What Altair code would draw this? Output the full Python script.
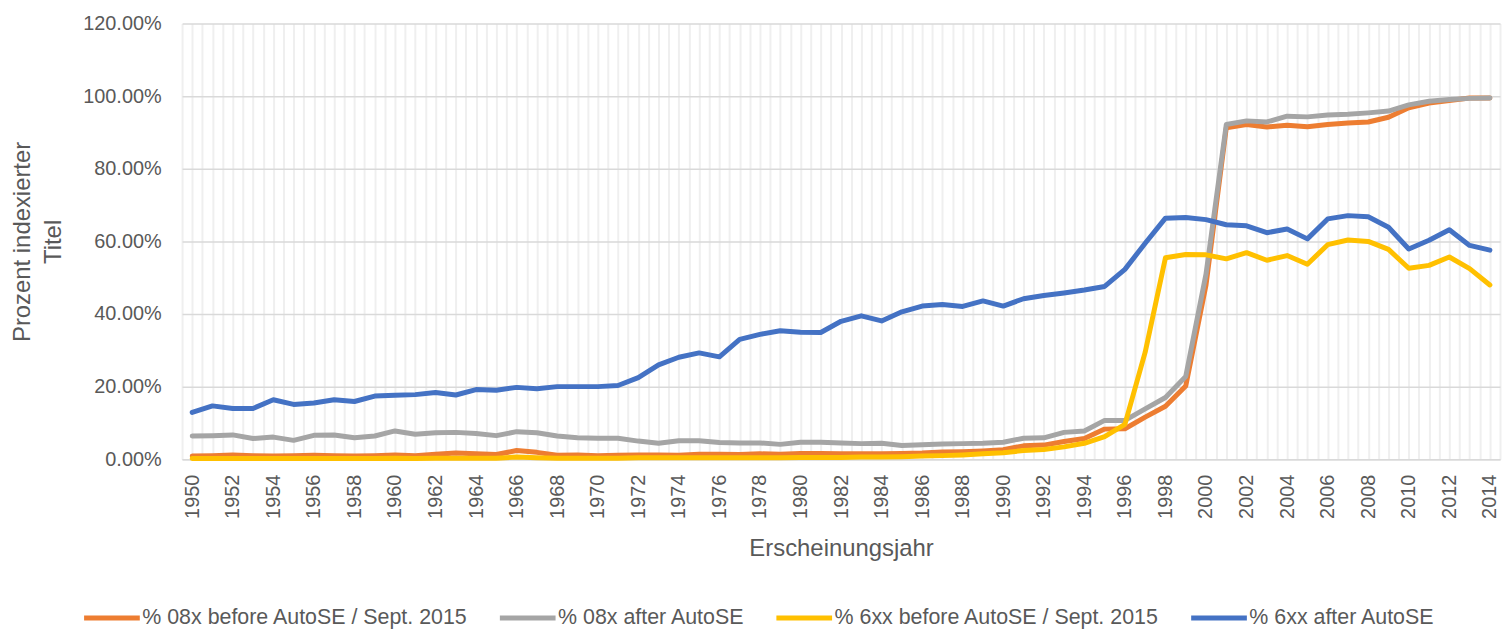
import altair as alt
import pandas as pd

years = list(range(1950, 2015))

series_names = [
    "% 08x before AutoSE / Sept. 2015",
    "% 08x after AutoSE",
    "% 6xx before AutoSE / Sept. 2015",
    "% 6xx after AutoSE",
]
series_colors = ["#ED7D31", "#A5A5A5", "#FFC000", "#4472C4"]

# values in percent, 1950..2014
orange = [0.9, 1.0, 1.2, 1.0, 0.9, 1.0, 1.1, 1.0, 0.9, 1.0,
          1.2, 1.0, 1.4, 1.7, 1.5, 1.3, 2.4, 1.9, 1.1, 1.2,
          1.0, 1.1, 1.2, 1.2, 1.1, 1.4, 1.4, 1.3, 1.5, 1.4,
          1.6, 1.6, 1.5, 1.5, 1.5, 1.6, 1.7, 2.0, 2.1, 2.3,
          2.6, 3.7, 3.9, 4.9, 5.7, 8.3, 8.4, 11.6, 14.6, 20.2,
          48.0, 91.3, 92.2, 91.5, 92.0, 91.6, 92.2, 92.6, 92.9, 94.2,
          96.8, 98.1, 98.8, 99.5, 99.5]
gray = [6.4, 6.5, 6.7, 5.7, 6.1, 5.2, 6.6, 6.7, 5.9, 6.4,
        7.8, 6.9, 7.3, 7.4, 7.1, 6.5, 7.6, 7.3, 6.4, 5.9,
        5.8, 5.8, 5.0, 4.4, 5.1, 5.1, 4.6, 4.5, 4.5, 4.1,
        4.7, 4.7, 4.5, 4.3, 4.4, 3.8, 4.0, 4.2, 4.3, 4.4,
        4.7, 5.8, 5.9, 7.4, 7.8, 10.7, 10.7, 13.9, 17.0, 22.8,
        51.0, 92.2, 93.2, 92.9, 94.5, 94.3, 94.8, 95.0, 95.4, 95.9,
        97.6, 98.6, 99.1, 99.4, 99.5]
yellow = [0.2, 0.2, 0.2, 0.2, 0.2, 0.2, 0.2, 0.2, 0.2, 0.2,
          0.3, 0.2, 0.3, 0.3, 0.3, 0.3, 0.6, 0.4, 0.3, 0.3,
          0.3, 0.3, 0.4, 0.4, 0.4, 0.4, 0.4, 0.4, 0.4, 0.4,
          0.5, 0.5, 0.5, 0.6, 0.6, 0.7, 0.9, 1.0, 1.2, 1.5,
          1.8, 2.4, 2.7, 3.4, 4.4, 6.2, 9.6, 29.5, 55.5, 56.4,
          56.3, 55.2, 56.9, 54.8, 56.1, 53.7, 59.1, 60.4, 60.0, 57.8,
          52.6, 53.4, 55.7, 52.5, 48.0]
blue = [12.9, 14.7, 14.0, 14.0, 16.4, 15.1, 15.5, 16.4, 15.9, 17.4,
        17.6, 17.8, 18.4, 17.7, 19.2, 19.0, 19.8, 19.4, 20.0, 20.0,
        20.0, 20.3, 22.5, 26.0, 28.1, 29.3, 28.2, 33.0, 34.4, 35.4,
        35.0, 34.9, 38.0, 39.5, 38.1, 40.6, 42.2, 42.6, 42.1, 43.6,
        42.2, 44.2, 45.1, 45.8, 46.6, 47.6, 52.3, 59.5, 66.4, 66.6,
        66.0, 64.6, 64.3, 62.4, 63.4, 60.7, 66.2, 67.1, 66.8, 63.9,
        57.9, 60.3, 63.2, 58.9, 57.6]

y_ticks = [0.0, 0.2, 0.4, 0.6, 0.8, 1.0, 1.2]

rows = []
for name, vals in zip(series_names, [orange, gray, yellow, blue]):
    for yr, v in zip(years, vals):
        rows.append({"year": yr, "series": name, "value": v / 100.0})
df = pd.DataFrame(rows)

x_grid_values = sorted([y - 0.5 for y in years] + years + [years[-1] + 0.5])

text_color = "#595959"
font = "Liberation Sans"

chart = alt.Chart(df).mark_line(
    strokeWidth=5, strokeCap="round", strokeJoin="round"
).encode(
    x=alt.X(
        "year:Q",
        scale=alt.Scale(domain=[1949.5, 2014.5], nice=False, zero=False),
        axis=alt.Axis(
            values=x_grid_values,
            labelExpr="datum.value % 2 === 0 ? toString(datum.value) : ''",
            labelAngle=-90,
            labelPadding=15,
            labelFontSize=20,
            labelColor=text_color,
            labelFont=font,
            labelOverlap=False,
            labelBound=False,
            ticks=False,
            grid=True,
            gridColor="#efefef",
            gridWidth=2,
            domainColor="#d9d9d9",
            domainWidth=1.5,
            title="Erscheinungsjahr",
            titleFontSize=24,
            titleFontWeight="normal",
            titleColor=text_color,
            titleFont=font,
            titleBaseline="alphabetic",
            titleY=97,
        ),
    ),
    y=alt.Y(
        "value:Q",
        scale=alt.Scale(domain=[0, 1.2], nice=False),
        axis=alt.Axis(
            values=y_ticks,
            format=".2%",
            labelFontSize=20,
            labelColor=text_color,
            labelFont=font,
            labelPadding=21,
            ticks=False,
            domain=False,
            grid=True,
            gridColor="#d9d9d9",
            gridWidth=1.5,
            title=["Prozent indexierter", "Titel"],
            titleFontSize=24,
            titleFontWeight="normal",
            titleColor=text_color,
            titleFont=font,
            titleAngle=-90,
            titleAlign="center",
            titleBaseline="top",
            titleLineHeight=31,
            titleX=-172,
            titleY=219,
        ),
    ),
    color=alt.Color(
        "series:N",
        scale=alt.Scale(domain=series_names, range=series_colors),
        legend=alt.Legend(
            title=None,
            orient="none",
            legendX=-101,
            legendY=567,
            direction="horizontal",
            symbolType="stroke",
            symbolSize=3136,
            symbolStrokeWidth=5,
            labelFontSize=21.5,
            labelFont=font,
            labelColor=text_color,
            labelOffset=0,
            labelLimit=1000,
            columnPadding=21,
        ),
    ),
).properties(
    width=1325,
    height=438,
    autosize=alt.AutoSizeParams(type="none"),
    padding={"left": 175, "top": 14, "right": 3, "bottom": 170},
).configure_view(stroke=None)

chart.save("out.html", embed_options={"renderer": "svg", "actions": False})
